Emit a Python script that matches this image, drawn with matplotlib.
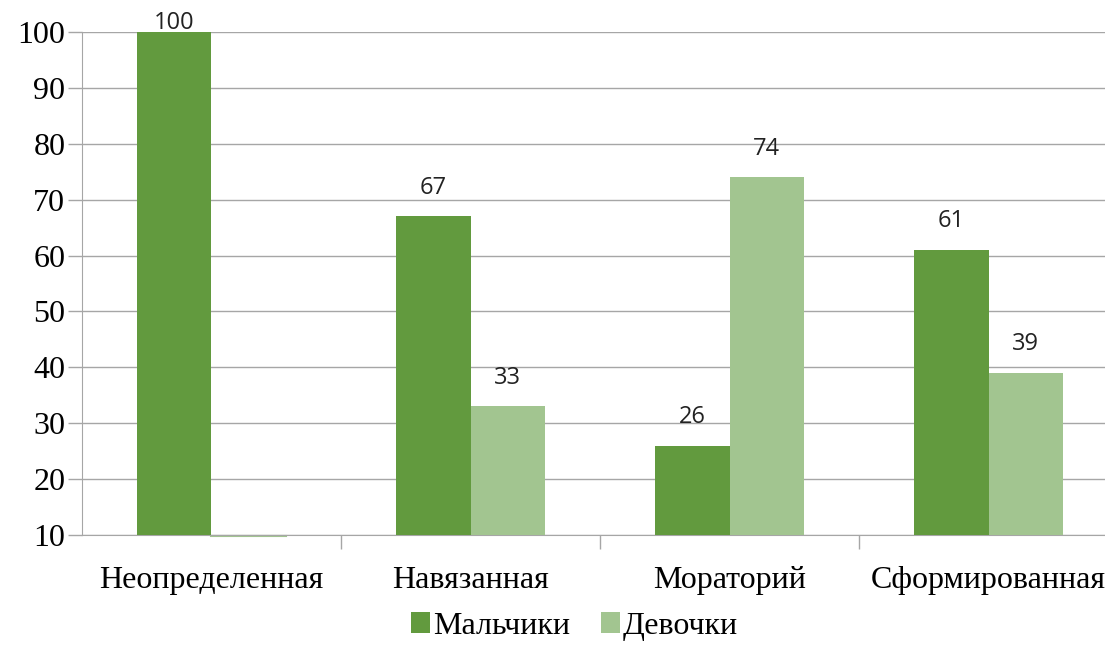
import numpy as np
import matplotlib.pyplot as plt

categories = ['Неопределенная', 'Навязанная', 'Мораторий', 'Сформированная']
boys = [100, 67, 26, 61]
girls = [0, 33, 74, 39]
series_names = ['Мальчики', 'Девочки']

c_boys = '#629a3e'
c_girls = '#a2c590'
grid_c = '#a6a6a6'

plt.rcParams['font.family'] = ['Liberation Serif', 'DejaVu Serif']

fig = plt.figure(figsize=(11.05, 6.47), dpi=100)
ax = fig.add_axes([0.0742, 0.1731, 0.9376, 0.7774])

x = np.arange(len(categories))
w = 0.286
b1 = ax.bar(x - w/2, boys, w, color=c_boys, label=series_names[0], zorder=3)
b2 = ax.bar(x + w/2, girls, w, color=c_girls, label=series_names[1], zorder=3)

# thin line for the zero-value bar
for xi, v in zip(x, girls):
    if v == 0:
        ax.plot([xi, xi + w], [9.8, 9.8], color=c_girls, lw=1.5, clip_on=False, zorder=2)

for bars, vals in ((b1, boys), (b2, girls)):
    for r, v in zip(bars, vals):
        if v < 10:
            continue
        off = -2 if v >= 100 else 12
        ax.annotate(str(v), (r.get_x() + r.get_width()/2, v), xytext=(0, off),
                    textcoords='offset points', ha='center', va='bottom',
                    fontsize=17, family=['Open Sans', 'DejaVu Sans'], color='#222222',
                    annotation_clip=False)

ax.set_ylim(10, 100)
ax.set_yticks(range(10, 101, 10))
ax.set_xlim(-0.5, len(categories) - 0.5)
ax.yaxis.grid(True, color=grid_c, lw=1, zorder=0)
ax.set_axisbelow(True)

ax.set_xticks(x)
ax.set_xticklabels(categories, fontsize=23)
ax.tick_params(axis='x', length=0, pad=22)
ax.set_xticks(np.arange(0.5, len(categories) - 0.5, 1), minor=True)
ax.tick_params(axis='x', which='minor', length=10, color=grid_c, width=1)
ax.tick_params(axis='y', labelsize=23, length=10, color=grid_c, width=1, pad=2)

for s in ('top', 'right'):
    ax.spines[s].set_visible(False)
ax.spines['left'].set_color(grid_c)
ax.spines['bottom'].set_color(grid_c)

fig.legend(loc='lower center', bbox_to_anchor=(0.52, -0.035), ncol=2, frameon=False,
           fontsize=23, handlelength=0.6, handleheight=0.6, handletextpad=0.1,
           columnspacing=0.95)

fig.savefig('out.png', dpi=100)
